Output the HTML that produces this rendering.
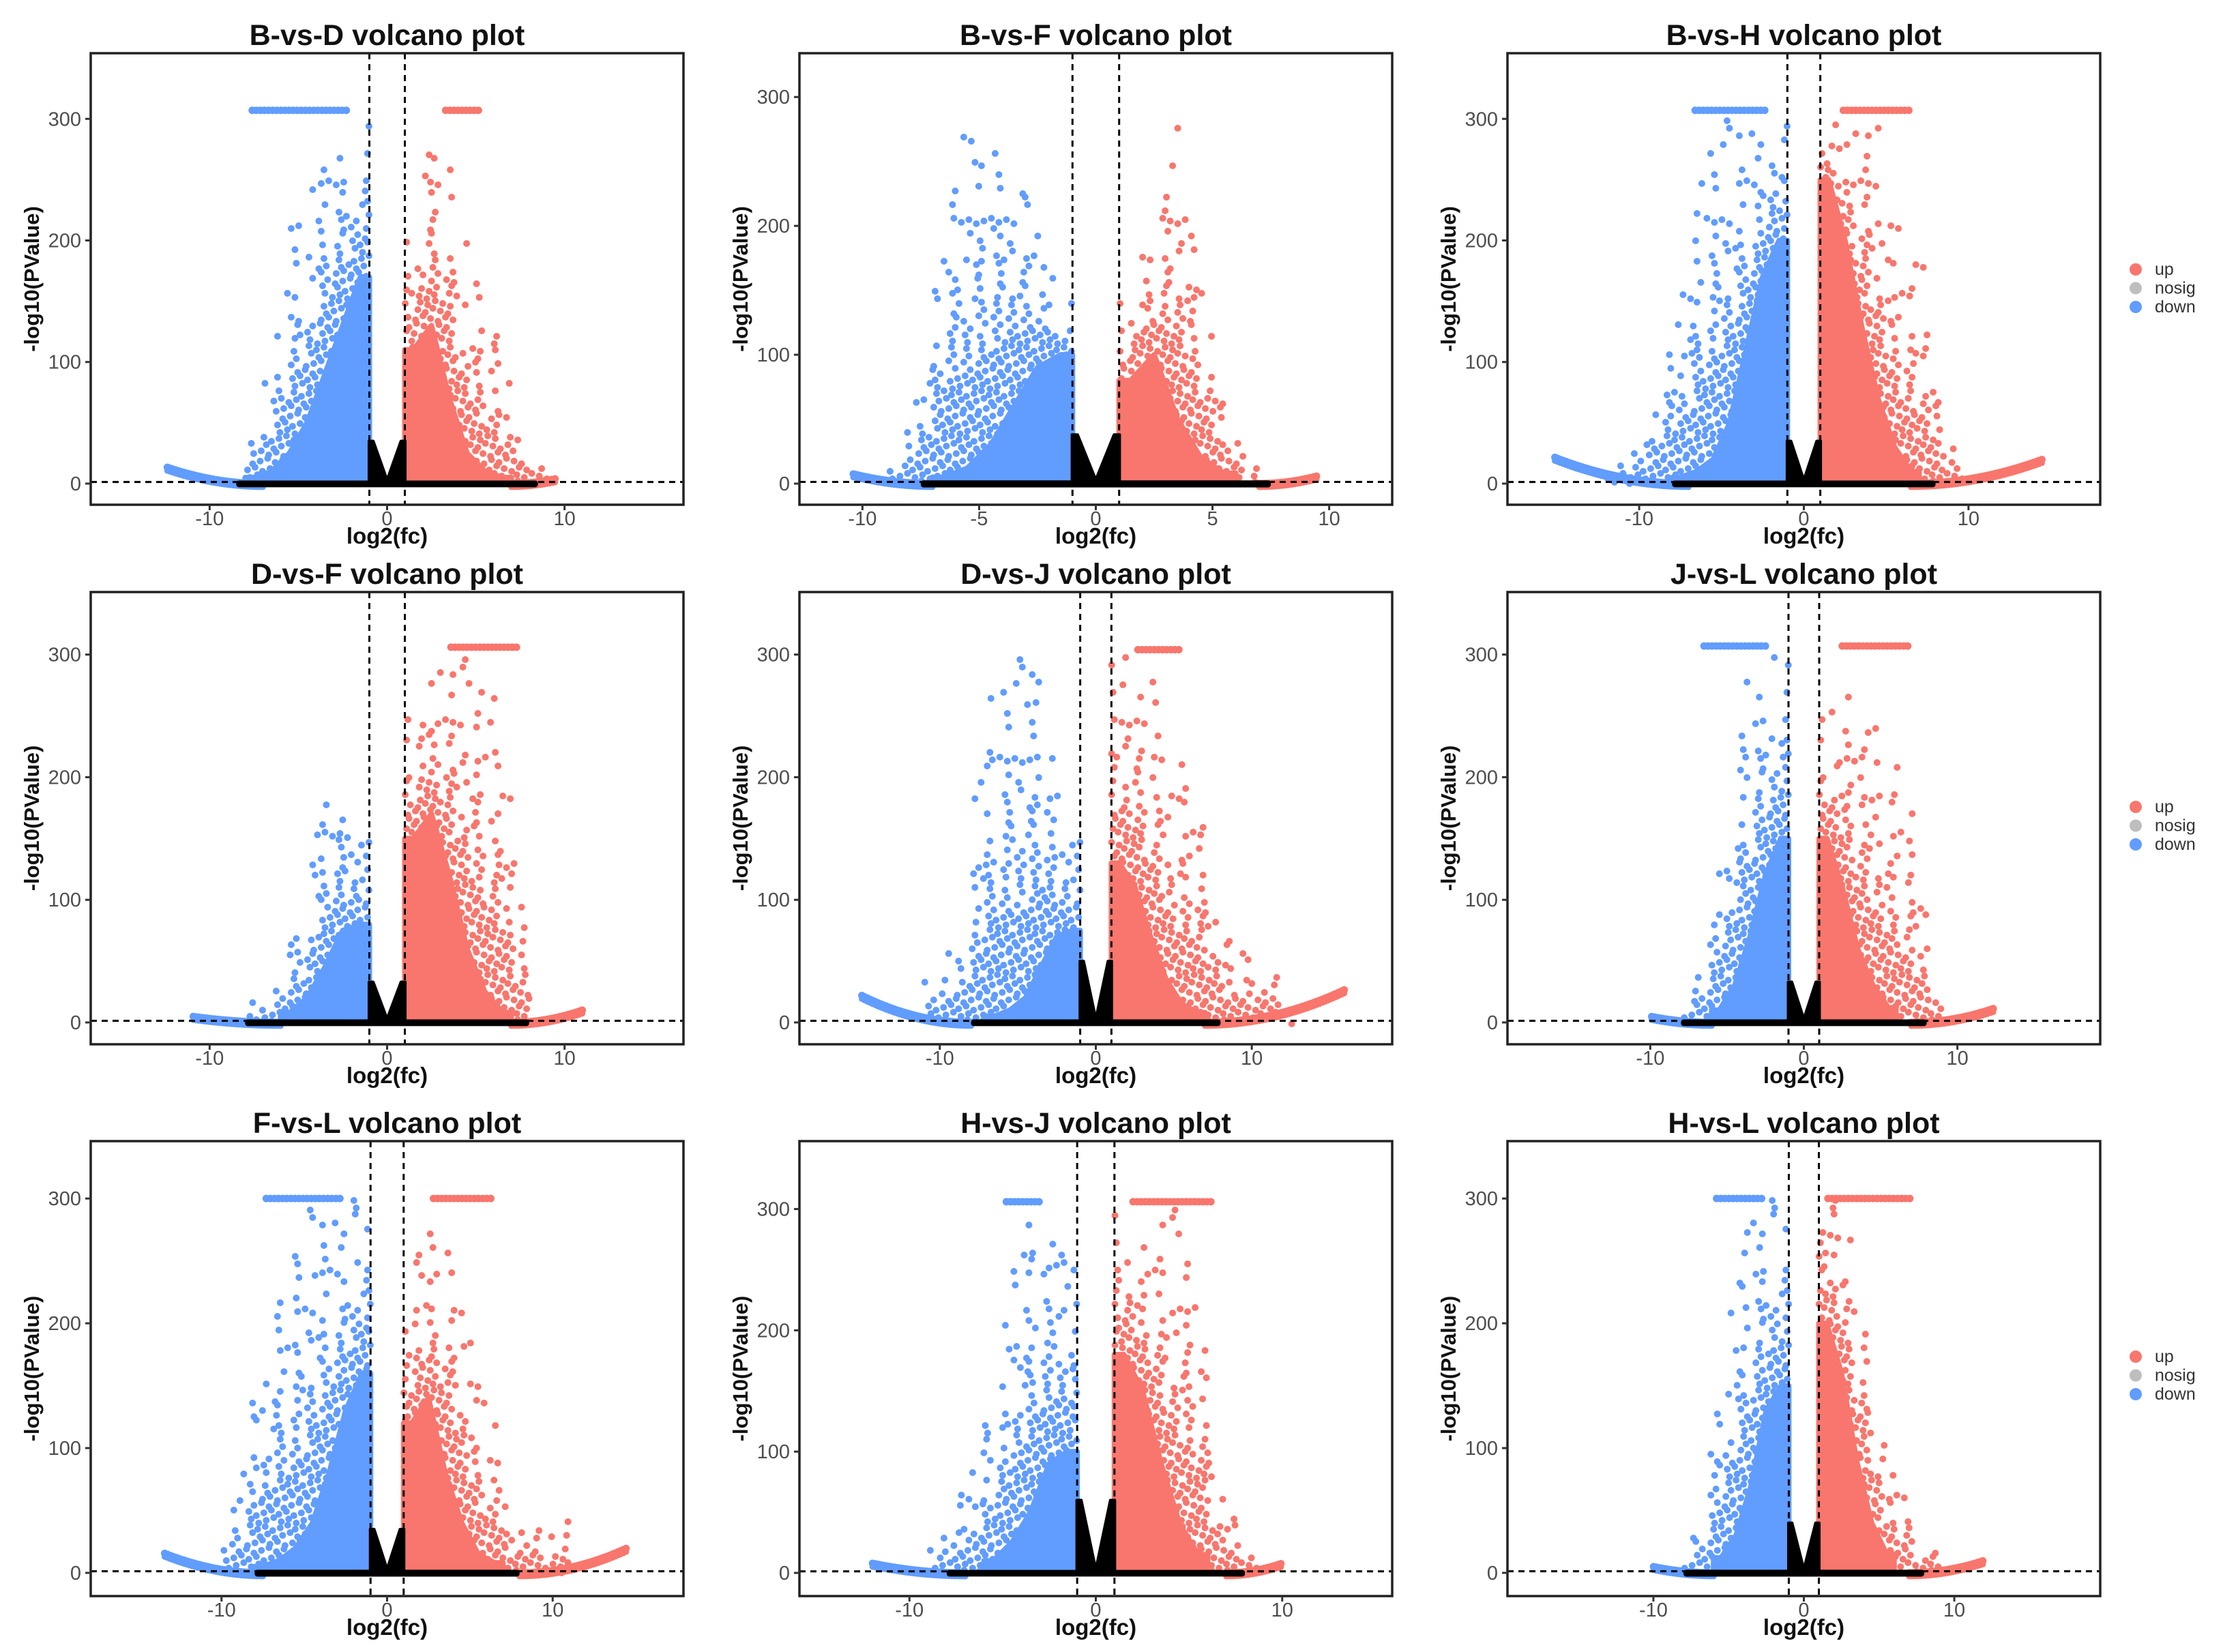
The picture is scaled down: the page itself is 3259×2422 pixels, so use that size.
<!DOCTYPE html>
<html><head><meta charset="utf-8"><style>
html,body{margin:0;padding:0;background:#fff;}
svg{display:block;font-family:"Liberation Sans",Arial,sans-serif;}
</style></head><body>
<svg id="fig" width="3259" height="2422" viewBox="0 0 3259 2422" xmlns="http://www.w3.org/2000/svg">
<rect x="0" y="0" width="3259" height="2422" fill="#fff"/>
</svg>
<script>
// ---- data ----
const titles = ["B-vs-D","B-vs-F","B-vs-H","D-vs-F","D-vs-J","J-vs-L","F-vs-L","H-vs-J","H-vs-L"];
const xLimits = [16.7,12.7,18.0,16.7,19.0,19.3,17.9,15.9,19.7];
const yMins = [-17.4,-16.4,-17.4,-17.8,-17.8,-17.8,-18.6,-19.1,-18.6];
const yMaxs = [354,334,354,351,351,351,346,356,346];
const xTickSets = [[-10,0,10],[-10,-5,0,5,10],[-10,0,10],[-10,0,10],[-10,0,10],[-10,0,10],[-10,0,10],[-10,0,10],[-10,0,10]];
const yTicks = [0,100,200,300];
const binCenters = [1.5,2.5,3.5,4.5,5.5,6.5,7.5,8.5,9.5,10.5,11.5];
const downDense = [
 [170,130,90,50,25,10,5],
 [100,90,60,30,12,5],
 [200,170,110,50,20,10,5],
 [80,75,45,20,8],
 [75,70,45,20,10,5],
 [150,120,70,30,10],
 [160,130,80,40,20,10,5],
 [100,90,50,25,10],
 [150,130,70,30,12]];
const downSparse = [
 [300,300,300,230,220,110,40],
 [150,200,260,290,290,250,80,20],
 [300,300,300,300,300,250,150,120,60,30,20],
 [150,190,200,110,60,40,20],
 [150,200,280,300,300,300,215,90,60,45],
 [300,300,300,200,160,60,20],
 [300,300,300,300,270,250,210,100,50],
 [250,300,300,250,150,90,60,30],
 [300,300,300,250,180,70,30]];
const upDense = [
 [110,130,70,25,10,5],
 [80,100,50,20,8],
 [250,200,130,70,30,10],
 [150,170,120,60,25,8],
 [130,110,70,35,15,8],
 [150,110,60,30,12],
 [120,140,80,40,15,8],
 [180,150,90,40,15],
 [200,160,90,40,15]];
const upSparse = [
 [200,300,300,200,170,100,60,15],
 [150,220,290,200,60,25],
 [300,300,300,300,220,200,180,60,20],
 [250,300,300,300,290,250,100],
 [300,300,290,260,230,220,150,80,60,60,55],
 [250,260,280,250,220,200,150,30],
 [230,300,290,260,150,140,60,60,30,50],
 [300,300,300,300,280,100,40,20],
 [300,300,250,170,100,90,40,25]];
const downCaps = [[-7.6,-2.2,307],null,[-6.6,-2.3,307],null,null,[-6.5,-2.5,307],[-7.3,-2.7,300],[-4.8,-3.0,306],[-5.8,-2.6,300]];
const upCaps = [[3.3,5.2,307],null,[2.4,6.4,307],[3.6,7.3,306],[2.7,5.5,304],[2.5,6.8,307],[2.8,6.3,300],[2.0,6.2,306],[1.6,7.3,300]];
const downTails = [[7,12.5,14],[7,10.5,8],[7,15.2,22],[6,11,5],[8,15,22],[6,10,5],[7.5,13.5,16],[7,12,8],[6,10,5]];
const upTails = [[7,9.5,4],[7,9.5,6],[6.5,14.5,20],[7,11,10],[7,16,27],[7,12.5,12],[8,14.5,20],[7,10,8],[7,12,10]];
const nosigRange = [8.5,7.5,8,8,8,8,8,8,8];
const vHeight = [35,38,35,33,50,33,35,60,40];
// ---- layout ----
const colLeft = [133,1172,2210], boxW = 869;
const rowTop = [78,868,1673], boxH = [662,663,667];
const BLUE="#619CFF", RED="#F8766D";
const NS="http://www.w3.org/2000/svg";
const svg=document.getElementById('fig');
function mk(tag,attrs,parent){const e=document.createElementNS(NS,tag);for(const k in attrs)e.setAttribute(k,attrs[k]);(parent||svg).appendChild(e);return e;}
function interp(arr,ax){
  if(ax<1)return 0;
  const idx=ax-1.5;
  if(idx<=0)return arr[0];
  const i=Math.floor(idx);
  if(i>=arr.length-1){return idx<arr.length-1+0.5?arr[arr.length-1]:0;}
  const t=idx-i;return arr[i]*(1-t)+arr[i+1]*t;
}
for(let p=0;p<9;p++){
  const r=Math.floor(p/3), c=p%3;
  const L=colLeft[c], T=rowTop[r], H=boxH[r], R=L+boxW, B=T+H;
  const xl=xLimits[p];
  const X=v=>L+(v+xl)/(2*xl)*boxW;
  const Y=v=>B-(v-yMins[p])/(yMaxs[p]-yMins[p])*H;
  const Yinv=py=>yMins[p]+(B-py)/H*(yMaxs[p]-yMins[p]);
  const g=mk('g',{});
  
  
  const cid='clip'+p;
  const cp=mk('clipPath',{id:cid},g);mk('rect',{x:L,y:T,width:boxW,height:H},cp);
  const title=mk('text',{x:L+boxW/2,y:T-12,'text-anchor':'middle','font-size':43,'font-weight':'bold',fill:'#111'},g);
  title.textContent=titles[p]+' volcano plot';
  
  
  const plot=mk('g',{'clip-path':'url(#'+cid+')'},g);
  
  
  const sides=[{s:-1,dense:downDense[p],sparse:downSparse[p],cap:downCaps[p],tail:downTails[p],col:BLUE,name:'down'},
               {s:1,dense:upDense[p],sparse:upSparse[p],cap:upCaps[p],tail:upTails[p],col:RED,name:'up'}];
  sides.forEach(sd=>{
    const maxAx=1.5+sd.sparse.length;
    const [t0,t1,tt]=sd.tail;
    const tg=mk('g',{fill:sd.col},plot);
    
    
    const tpx=Math.abs(X(t1)-X(t0));
    for(let k=0;k<=tpx;k+=4){const ax=t0+(t1-t0)*k/tpx;const v=tt*Math.pow((ax-t0)/(t1-t0),2);
      mk('circle',{cx:X(sd.s*ax),cy:Y(v),r:5.5},tg);
      mk('circle',{cx:X(sd.s*ax),cy:Y(v)+5,r:4.5},tg);}
    let pts=[];
    for(let ax=1;ax<=maxAx;ax+=0.05){const h=interp(sd.dense,ax);if(h>0)pts.push([X(sd.s*ax),Y(h)]);}
    if(pts.length){
      const last=pts[pts.length-1][0];
      let d='M'+X(sd.s*1)+','+Y(0)+' '+pts.map(q=>'L'+q[0].toFixed(1)+','+q[1].toFixed(1)).join(' ')+' L'+last+','+Y(0)+'Z';
      const poly=mk('path',{d:d,fill:sd.col,stroke:sd.col,'stroke-width':8,'stroke-linejoin':'round'},plot);
      
      
    }
    const sg=mk('g',{fill:sd.col},plot);
    
    
    const x1=X(sd.s*1.1), x2=X(sd.s*maxAx);
    const nI=Math.ceil(Math.abs(x2-x1)/11);
    for(let j=0;;j++){
      const pyBase=Y(0)-j*11; if(pyBase<T)break;
      for(let i=0;i<=nI;i++){
        const py=pyBase+(((i*7+j*3)%5)-2)*2;
        const v=Yinv(py);
        const px=x1+sd.s*(i*11+(j%2)*5.5+(((i*3+j*5)%3)-1)*2);
        const ax=Math.abs((px-L)/boxW*2*xl-xl);
        const dd=interp(sd.dense,ax), sp=interp(sd.sparse,ax);
        if(v>dd-3 && v<sp){
          const frac=(v-dd)/(sp-dd+1);
          const M=1+Math.floor(frac*frac*6+frac*2);
          if((i*5+j*3)%M===0)mk('circle',{cx:px.toFixed(1),cy:py.toFixed(1),r:5},sg);
        }
      }
    }
    if(sd.cap){
      const cg=mk('g',{fill:sd.col},plot);
      
      
      const a=X(sd.cap[0]), b=X(sd.cap[1]);
      for(let px=a;px<=b;px+=6)mk('circle',{cx:px,cy:Y(sd.cap[2]),r:5.5},cg);
    }
  });
  // nosig band on top
  const nr=nosigRange[p];
  const band=mk('rect',{x:X(-nr),y:Y(2.5),width:X(nr)-X(-nr),height:Y(-3)-Y(2.5),fill:'#000',rx:4},plot);
  
  
  const vh=vHeight[p];
  const vp=mk('path',{d:'M'+X(-1.02)+','+Y(vh)+' L'+X(-0.78)+','+Y(vh)+' L'+X(0)+','+Y(3)+' L'+X(0.78)+','+Y(vh)+' L'+X(1.02)+','+Y(vh)+' L'+X(1.02)+','+Y(0)+' L'+X(-1.02)+','+Y(0)+'Z',fill:'#000',stroke:'#000','stroke-width':4,'stroke-linejoin':'round'},plot);
  
  
  [-1,1].forEach(v=>{const ln=mk('line',{x1:X(v),x2:X(v),y1:T,y2:B,stroke:'#000','stroke-width':3,'stroke-dasharray':'9,7'},plot);
    
    });
  const hl=mk('line',{x1:L,x2:R,y1:Y(1.3),y2:Y(1.3),stroke:'#000','stroke-width':3,'stroke-dasharray':'9,7'},plot);
  
  
  const bx=mk('rect',{x:L,y:T,width:boxW,height:H,fill:'none',stroke:'#222','stroke-width':3.5},g);
  
  
  yTicks.forEach(t=>{
    mk('line',{x1:L-8,x2:L,y1:Y(t),y2:Y(t),stroke:'#333','stroke-width':3},g);
    const tx=mk('text',{x:L-14,y:Y(t)+10,'text-anchor':'end','font-size':29,fill:'#4d4d4d'},g);
    tx.textContent=t;
    
    
  });
  xTickSets[p].forEach(t=>{
    mk('line',{x1:X(t),x2:X(t),y1:B,y2:B+8,stroke:'#333','stroke-width':3},g);
    const tx=mk('text',{x:X(t),y:B+30,'text-anchor':'middle','font-size':29,fill:'#4d4d4d'},g);
    tx.textContent=t;
    
    
  });
  const xt=mk('text',{x:L+boxW/2,y:B+57,'text-anchor':'middle','font-size':33,'font-weight':'bold',fill:'#111'},g);
  xt.textContent='log2(fc)';
  
  
  const yt=mk('text',{x:0,y:0,'text-anchor':'middle','font-size':31,'font-weight':'bold',fill:'#111',transform:'translate('+(L-76)+','+(T+H/2)+') rotate(-90)'},g);
  yt.textContent='-log10(PValue)';
  
  
  if(c===2){
    const legY=[395,1183,1989][r];
    const lg=mk('g',{},g);
    
    
    [['up',RED],['nosig','#BEBEBE'],['down',BLUE]].forEach((e,k)=>{
      const eg=mk('g',{},lg);
      
      
      mk('circle',{cx:3131,cy:legY+k*27.5,r:9,fill:e[1]},eg);
      const tx=mk('text',{x:3159,y:legY+k*27.5+8,'font-size':25,fill:'#333'},eg);
      tx.textContent=e[0];
    });
  }
}
</script>
</body></html>
